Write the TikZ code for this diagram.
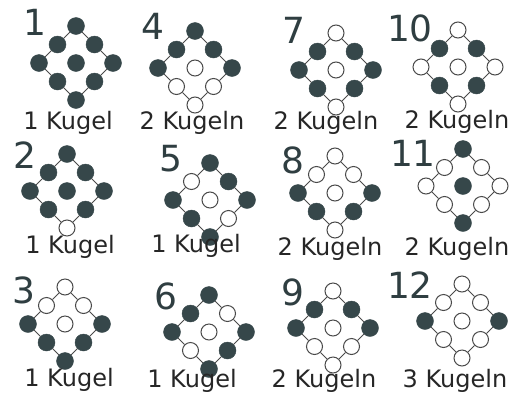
\documentclass[tikz,border=0pt]{standalone}
\usepackage{fontspec}
\setmainfont{DejaVu Sans}
\usepackage{xcolor}
\usetikzlibrary{positioning}
\definecolor{kugelgrau}{HTML}{36474A}
\definecolor{ziffergrau}{HTML}{2F3E41}
\definecolor{liniengrau}{HTML}{4A4A4A}

% #1 Name, #2 Mitte, #3 neun Kugeln zeilenweise (oben, rechts oben, rechts, ...)
\newcommand{\raute}[3]{%
  \begin{scope}[shift={#2}]
    \foreach \s [count=\i from 0] in {#3} {
      \pgfmathtruncatemacro{\gx}{mod(\i,3)}
      \pgfmathtruncatemacro{\gy}{\i/3}
      \node[\s] (#1-\i) at ({(\gx-\gy)*18.5},{(\gx+\gy-2)*18.5}) {};
    }
    \foreach \a/\b in {0/1,1/2,2/5,5/8,8/7,7/6,6/3,3/0}
      \draw[verbindung] (#1-\a) -- (#1-\b);
  \end{scope}}

\begin{document}
\begin{tikzpicture}[
        x=1pt, y=-1pt,
        voll/.style={circle, fill=kugelgrau, draw=kugelgrau, minimum size=17pt, inner sep=0pt},
        leer/.style={circle, fill=white, draw=liniengrau, line width=1pt, minimum size=16pt, inner sep=0pt},
        verbindung/.style={draw=liniengrau, line width=0.8pt},
        nummer/.style={font=\fontsize{36}{38}\selectfont, text=ziffergrau, inner sep=0pt},
        beschriftung/.style={font=\fontsize{24}{26}\selectfont, text=black!85, inner sep=0pt, anchor=base}
    ]
    \fill[white] (0,0) rectangle (521,394);
    \useasboundingbox (0,0) rectangle (521,394);

    % erste Reihe
    \raute{r1}{(76,63)}{voll,voll,voll,voll,voll,voll,voll,voll,voll}
    \raute{r4}{(195,68)}{voll,voll,voll,voll,leer,leer,voll,leer,leer}
    \raute{r7}{(336,70)}{leer,voll,voll,voll,leer,voll,voll,voll,leer}
    \raute{r10}{(458,67)}{leer,voll,leer,voll,leer,voll,leer,voll,leer}
    \node[nummer] (n1) at (35,22) {1};
    \node[nummer] (n4) at (153,26) {4};
    \node[nummer] (n7) at (294,30) {7};
    \node[nummer] (n10) at (410,28) {10};
    \node[beschriftung] (b1) at (68,129) {1 Kugel};
    \node[beschriftung] (b4) at (192,129) {2 Kugeln};
    \node[beschriftung] (b7) at (326,129) {2 Kugeln};
    \node[beschriftung] (b10) at (457,128) {2 Kugeln};

    % zweite Reihe
    \raute{r2}{(67,191)}{voll,voll,voll,voll,voll,voll,voll,voll,leer}
    \raute{r5}{(210,200)}{voll,voll,voll,leer,leer,leer,voll,voll,voll}
    \raute{r8}{(335,193)}{leer,leer,voll,leer,leer,voll,voll,voll,leer}
    \raute{r11}{(463,186)}{voll,leer,leer,leer,voll,leer,leer,leer,voll}
    \node[nummer] (n2) at (25,155) {2};
    \node[nummer] (n5) at (171,159) {5};
    \node[nummer] (n8) at (293,160) {8};
    \node[nummer] (n11) at (413,153) {11};
    \node[beschriftung] (b2) at (70,253) {1 Kugel};
    \node[beschriftung] (b5) at (196,252) {1 Kugel};
    \node[beschriftung] (b8) at (330,255) {2 Kugeln};
    \node[beschriftung] (b11) at (457,255) {2 Kugeln};

    % dritte Reihe
    \raute{r3}{(65,324)}{leer,leer,voll,leer,leer,voll,voll,voll,voll}
    \raute{r6}{(209,332)}{voll,leer,voll,voll,leer,voll,voll,leer,voll}
    \raute{r9}{(333,328)}{leer,voll,voll,voll,leer,leer,voll,leer,leer}
    \raute{r12}{(462,321)}{leer,leer,voll,leer,leer,leer,voll,leer,leer}
    \node[nummer] (n3) at (24,290) {3};
    \node[nummer] (n6) at (166,296) {6};
    \node[nummer] (n9) at (293,292) {9};
    \node[nummer] (n12) at (410,285) {12};
    \node[beschriftung] (b3) at (69,386) {1 Kugel};
    \node[beschriftung] (b6) at (192,387) {1 Kugel};
    \node[beschriftung] (b9) at (324,387) {2 Kugeln};
    \node[beschriftung] (b12) at (455,387) {3 Kugeln};
\end{tikzpicture}
\end{document}
